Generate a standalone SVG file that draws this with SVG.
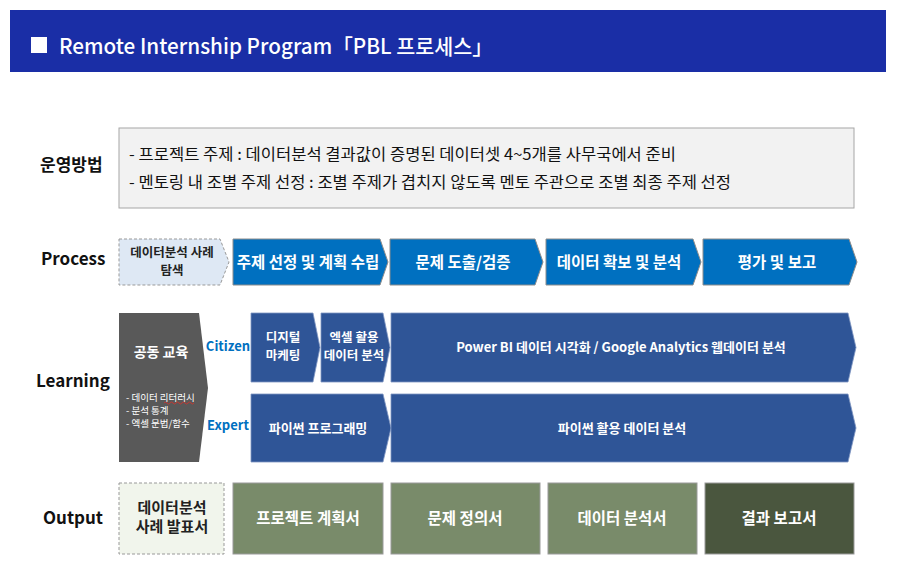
<svg xmlns="http://www.w3.org/2000/svg" width="902" height="572" viewBox="0 0 902 572">
<style>
text{font-family:"Noto Sans CJK KR","Noto Sans",sans-serif;}
.lbl{font-size:17px;font-weight:700;fill:#111;}
.wt{fill:#fff;font-weight:700;text-anchor:middle;}
.dk{fill:#222;font-weight:700;text-anchor:middle;}
.proc{fill:#0070c0;stroke:#8c8c8c;stroke-width:1;}
.learn{fill:#2f5597;stroke:#7f95c2;stroke-width:0.8;}
.out{fill:#798b6a;stroke:#9a9a9a;stroke-width:1;}
.dash{stroke:#999;stroke-width:1;stroke-dasharray:3,2;}
.tag{fill:#0070c0;font-weight:700;font-size:13px;text-anchor:middle;}
</style>
<rect width="902" height="572" fill="#fff"/>
<g id="header">
<rect x="10" y="10" width="876" height="62" fill="#1a2ea6"/>
<rect x="31" y="37" width="16" height="16" fill="#fff"/>
<text x="59" y="54" font-size="21" font-weight="500" fill="#fff" textLength="434" lengthAdjust="spacingAndGlyphs">Remote Internship Program「PBL 프로세스」</text>
</g>
<g id="row-labels">
<text class="lbl" x="40" y="171">운영방법</text>
<text class="lbl" x="41" y="265" font-weight="500">Process</text>
<text class="lbl" x="36" y="387" font-weight="500">Learning</text>
<text class="lbl" x="43" y="524" font-weight="500">Output</text>
</g>
<g id="operation">
<rect x="119" y="128" width="735" height="80" fill="#f2f2f2" stroke="#a6a6a6" stroke-width="1"/>
<text x="129" y="160" font-size="15.5" fill="#111" textLength="547" lengthAdjust="spacingAndGlyphs">- 프로젝트 주제 : 데이터분석 결과값이 증명된 데이터셋 4~5개를 사무국에서 준비</text>
<text x="129" y="188" font-size="15.5" fill="#111" textLength="602" lengthAdjust="spacingAndGlyphs">- 멘토링 내 조별 주제 선정 : 조별 주제가 겹치지 않도록 멘토 주관으로 조별 최종 주제 선정</text>
</g>
<g id="p0">
<path class="dash" d="M119,239 H220 L229,262 L220,285 H119 Z" fill="#dee8f4"/>
<text class="dk" x="172" y="257" font-size="12.5">데이터분석 사례</text>
<text class="dk" x="172" y="275" font-size="12.5">탐색</text>
</g>
<g id="p1">
<path class="proc" d="M233,239 H380 L388,262 L380,285 H233 Z"/>
<text class="wt" x="308" y="268" font-size="15.5">주제 선정 및 계획 수립</text>
</g>
<g id="p2">
<path class="proc" d="M390,239 H535 L543,262 L535,285 H390 Z"/>
<text class="wt" x="463" y="268" font-size="15.5">문제 도출/검증</text>
</g>
<g id="p3">
<path class="proc" d="M546,239 H693 L701,262 L693,285 H546 Z"/>
<text class="wt" x="619" y="268" font-size="15.5">데이터 확보 및 분석</text>
</g>
<g id="p4">
<path class="proc" d="M703,239 H849 L857,262 L849,285 H703 Z"/>
<text class="wt" x="777" y="268" font-size="15.5">평가 및 보고</text>
</g>
<g id="common">
<path d="M119,313 H199 L208,388 L199,462 H119 Z" fill="#595959"/>
<text class="wt" x="161" y="357" font-size="14">공동 교육</text>
<text x="126" y="401" font-size="9.5" fill="#fff">- 데이터 리터러시</text>
<text x="126" y="414" font-size="9.5" fill="#fff">- 분석 통계</text>
<text x="126" y="427" font-size="9.5" fill="#fff">- 엑셀 문법/함수</text>
<path d="M164,403 q1.5,-2 3,0 t3,0 t3,0 t3,0 t3,0 t3,0 t3,0 t3,0 t3,0 t3,0" fill="none" stroke="#e0302a" stroke-width="0.8"/>
</g>
<g id="citizen-label"><text class="tag" x="228" y="351">Citizen</text></g>
<g id="expert-label"><text class="tag" x="228" y="430">Expert</text></g>
<g id="c1">
<path class="learn" d="M251,313 H313 L320,347.5 L313,382 H251 Z"/>
<text class="wt" x="283" y="342" font-size="12.5">디지털</text>
<text class="wt" x="283" y="360" font-size="12.5">마케팅</text>
</g>
<g id="c2">
<path class="learn" d="M321,313 H383 L390,347.5 L383,382 H321 Z"/>
<text class="wt" x="354" y="342" font-size="12.5">엑셀 활용</text>
<text class="wt" x="354" y="360" font-size="12.5">데이터 분석</text>
</g>
<g id="c3">
<path class="learn" d="M391,313 H848 L856,347.5 L848,382 H391 Z"/>
<text class="wt" x="621" y="352" font-size="13">Power BI 데이터 시각화 / Google Analytics 웹데이터 분석</text>
</g>
<g id="e1">
<path class="learn" d="M251,394 H383 L391,428 L383,462 H251 Z"/>
<text class="wt" x="318" y="433" font-size="13">파이썬 프로그래밍</text>
</g>
<g id="e2">
<path class="learn" d="M391,394 H848 L856,428 L848,462 H391 Z"/>
<text class="wt" x="622" y="433" font-size="13">파이썬 활용 데이터 분석</text>
</g>
<g id="o0">
<rect class="dash" x="119" y="483" width="105" height="71" fill="#f1f5ec"/>
<text class="dk" x="172" y="513" font-size="15">데이터분석</text>
<text class="dk" x="172" y="532" font-size="15">사례 발표서</text>
</g>
<g id="o1">
<rect class="out" x="233" y="483" width="150" height="71"/>
<text class="wt" x="308" y="524" font-size="15.5">프로젝트 계획서</text>
</g>
<g id="o2">
<rect class="out" x="391" y="483" width="149" height="71"/>
<text class="wt" x="465" y="524" font-size="15.5">문제 정의서</text>
</g>
<g id="o3">
<rect class="out" x="548" y="483" width="149" height="71"/>
<text class="wt" x="622" y="524" font-size="15.5">데이터 분석서</text>
</g>
<g id="o4">
<rect x="705" y="483" width="149" height="71" fill="#4a563e" stroke="#9a9a9a" stroke-width="1"/>
<text class="wt" x="779" y="524" font-size="15.5">결과 보고서</text>
</g>
<g id="connectors"></g>
</svg>
